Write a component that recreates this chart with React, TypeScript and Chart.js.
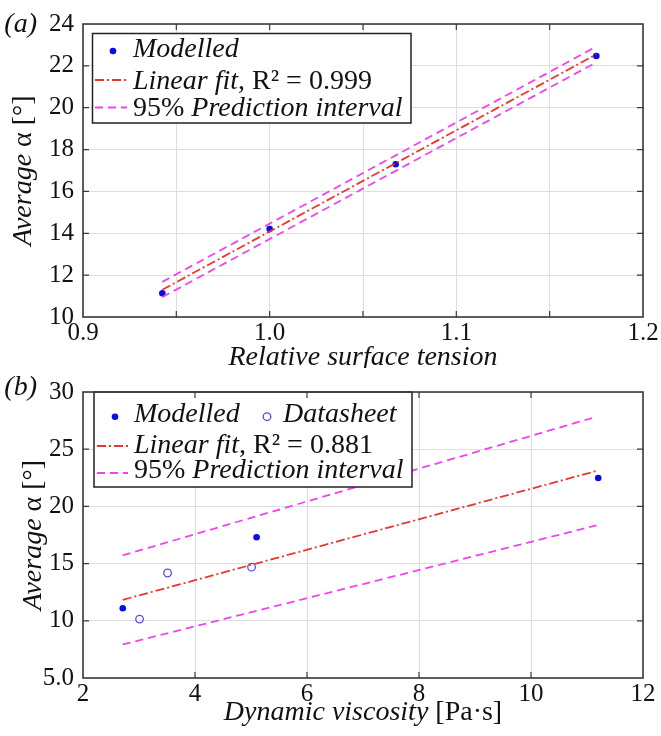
import React, { useEffect, useRef } from 'react';
import { Chart, registerables } from 'chart.js';

Chart.register(...registerables);

const SERIF = '"Liberation Serif", "DejaVu Serif", serif';
const INK = '#111111';
const GRID = '#dedede';
const FRAME = '#3a3a3a';
const BLUE = '#0b0bea';
const RING = '#4f4fe0';
const RED = '#e8382e';
const MAGENTA = '#ee44ee';
const FIT_DASH = [9, 3, 2, 3];
const PI_DASH = [8, 5];
const LINE_W = 1.8;

// (a) average angle against relative surface tension
const tensionModelled = [0.9425, 1.0, 1.0675, 1.175];
const alphaModelledA = [11.13, 14.2, 17.3, 22.47];
const tensionFit = [0.9425, 1.175];
const alphaFitA = [11.3, 22.55];
const alphaUpperA = [11.68, 22.92];
const alphaLowerA = [10.95, 22.17];
const tensionTicks = [0.9, 1.0, 1.1, 1.2];

// (b) average angle against dynamic viscosity
const viscosityModelled = [2.71, 5.1, 11.2];
const alphaModelledB = [11.1, 17.3, 22.48];
const viscosityDatasheet = [3.01, 3.51, 5.01];
const alphaDatasheet = [10.15, 14.18, 14.69];
const viscosityFit = [2.71, 11.17];
const alphaFitB = [11.83, 23.1];
const alphaUpperB = [15.72, 27.84];
const alphaLowerB = [7.93, 18.34];

type Run = { text: string; italic?: boolean };

const pts = (xs: number[], ys: number[]) => xs.map((x, i) => ({ x, y: ys[i] }));

function font(size: number, italic?: boolean) {
  return `${italic ? 'italic ' : ''}${size}px ${SERIF}`;
}

function drawRuns(ctx: CanvasRenderingContext2D, runs: Run[], x: number, y: number, size: number, align: 'left' | 'center' | 'right' = 'left') {
  const widths = runs.map((r) => {
    ctx.font = font(size, r.italic);
    return ctx.measureText(r.text).width;
  });
  const total = widths.reduce((a, b) => a + b, 0);
  let cx = align === 'left' ? x : align === 'center' ? x - total / 2 : x - total;
  ctx.textBaseline = 'alphabetic';
  ctx.textAlign = 'left';
  ctx.fillStyle = INK;
  runs.forEach((r, i) => {
    ctx.font = font(size, r.italic);
    ctx.fillText(r.text, cx, y);
    cx += widths[i];
  });
}

type Marker = { kind: 'dot' | 'ring' | 'line'; color: string; dash?: number[]; x: number; x2?: number };
type LegendRow = { baseline: number; markerY: number; items: { marker: Marker; textX: number; runs: Run[] }[] };

type Decor = {
  panel: string;
  panelBaseline: number;
  yTitleX: number;
  xTitleBaseline: number;
  xTitle: Run[];
  box: [number, number, number, number];
  rows: LegendRow[];
};

const yTitle: Run[] = [{ text: 'Average', italic: true }, { text: ' α [°]' }];

function drawMarker(ctx: CanvasRenderingContext2D, m: Marker, y: number) {
  ctx.save();
  if (m.kind === 'dot') {
    ctx.fillStyle = m.color;
    ctx.beginPath();
    ctx.arc(m.x, y, 3.3, 0, Math.PI * 2);
    ctx.fill();
  } else if (m.kind === 'ring') {
    ctx.strokeStyle = m.color;
    ctx.lineWidth = 1.3;
    ctx.beginPath();
    ctx.arc(m.x, y, 3.8, 0, Math.PI * 2);
    ctx.stroke();
  } else {
    ctx.strokeStyle = m.color;
    ctx.lineWidth = LINE_W;
    ctx.setLineDash(m.dash || []);
    ctx.beginPath();
    ctx.moveTo(m.x, y);
    ctx.lineTo(m.x2 || m.x, y);
    ctx.stroke();
  }
  ctx.restore();
}

function decorPlugin(d: Decor) {
  return {
    id: 'panelDecor',
    afterDatasetsDraw(chart: any) {
      const ctx: CanvasRenderingContext2D = chart.ctx;
      const [bx, by, bw, bh] = d.box;
      ctx.save();
      ctx.fillStyle = '#ffffff';
      ctx.fillRect(bx, by, bw, bh);
      ctx.strokeStyle = '#222222';
      ctx.lineWidth = 1.5;
      ctx.strokeRect(bx, by, bw, bh);
      d.rows.forEach((row) => {
        row.items.forEach((it) => {
          drawMarker(ctx, it.marker, row.markerY);
          drawRuns(ctx, it.runs, it.textX, row.baseline, 28);
        });
      });
      ctx.restore();
    },
    afterDraw(chart: any) {
      const ctx: CanvasRenderingContext2D = chart.ctx;
      const a = chart.chartArea;
      ctx.save();
      // box frame with inward tick marks
      ctx.strokeStyle = FRAME;
      ctx.lineWidth = 1.6;
      ctx.strokeRect(a.left, a.top, a.right - a.left, a.bottom - a.top);
      ctx.lineWidth = 1.2;
      const xs = chart.scales.x;
      const ys = chart.scales.y;
      ctx.beginPath();
      xs.ticks.forEach((t: any) => {
        const p = xs.getPixelForValue(t.value);
        if (p <= a.left + 1 || p >= a.right - 1) return;
        ctx.moveTo(p, a.bottom);
        ctx.lineTo(p, a.bottom - 6);
        ctx.moveTo(p, a.top);
        ctx.lineTo(p, a.top + 6);
      });
      ys.ticks.forEach((t: any) => {
        const p = ys.getPixelForValue(t.value);
        if (p <= a.top + 1 || p >= a.bottom - 1) return;
        ctx.moveTo(a.left, p);
        ctx.lineTo(a.left + 6, p);
        ctx.moveTo(a.right, p);
        ctx.lineTo(a.right - 6, p);
      });
      ctx.stroke();

      // panel letter
      drawRuns(ctx, [{ text: d.panel, italic: true }], 37, d.panelBaseline, 28, 'right');

      // axis titles
      drawRuns(ctx, d.xTitle, (a.left + a.right) / 2, d.xTitleBaseline, 28, 'center');
      ctx.translate(d.yTitleX, (a.top + a.bottom) / 2);
      ctx.rotate(-Math.PI / 2);
      drawRuns(ctx, yTitle, 0, 0, 28, 'center');
      ctx.restore();
    },
  };
}

function baseScales(xh: number) {
  const tickFont = { family: SERIF, size: 25 };
  return {
    x: {
      type: 'linear',
      afterFit: (s: any) => {
        s.height = xh;
      },
      grid: { color: GRID, lineWidth: 1, drawTicks: false },
      border: { display: false },
      ticks: { padding: 1, color: INK, font: tickFont, autoSkip: false, maxRotation: 0 },
    },
    y: {
      type: 'linear',
      afterFit: (s: any) => {
        s.width = 83;
      },
      grid: { color: GRID, lineWidth: 1, drawTicks: false },
      border: { display: false },
      ticks: { padding: 9, color: INK, font: tickFont, autoSkip: false },
    },
  };
}

function lineSet(label: string, xs: number[], ys: number[], color: string, dash: number[]) {
  return { label, data: pts(xs, ys), showLine: true, borderColor: color, borderWidth: LINE_W, borderDash: dash, pointRadius: 0 };
}

function configA(): any {
  const sc: any = baseScales(51);
  sc.x.min = 0.9;
  sc.x.max = 1.2;
  sc.x.ticks.stepSize = 0.05;
  sc.x.ticks.callback = (v: any) => {
    const n = Math.round(Number(v) * 100) / 100;
    return tensionTicks.some((t) => Math.abs(t - n) < 1e-6) ? n.toFixed(1) : '';
  };
  sc.y.min = 10;
  sc.y.max = 24;
  sc.y.ticks.stepSize = 2;
  return {
    type: 'scatter',
    data: {
      datasets: [
        lineSet('upper', tensionFit, alphaUpperA, MAGENTA, PI_DASH),
        lineSet('lower', tensionFit, alphaLowerA, MAGENTA, PI_DASH),
        lineSet('fit', tensionFit, alphaFitA, RED, FIT_DASH),
        { label: 'Modelled', data: pts(tensionModelled, alphaModelledA), pointRadius: 3.3, pointBackgroundColor: BLUE, pointBorderColor: BLUE, pointBorderWidth: 0 },
      ],
    },
    options: {
      responsive: false,
      animation: false,
      devicePixelRatio: 1,
      layout: { padding: { top: 24, right: 18, left: 0, bottom: 0 } },
      plugins: { legend: { display: false }, tooltip: { enabled: false } },
      scales: sc,
    },
    plugins: [
      decorPlugin({
        panel: '(a)',
        panelBaseline: 32,
        yTitleX: 31,
        xTitleBaseline: 365,
        xTitle: [{ text: 'Relative surface tension', italic: true }],
        box: [92.5, 33.5, 318.5, 89.5],
        rows: [
          { baseline: 57, markerY: 51, items: [{ marker: { kind: 'dot', color: BLUE, x: 113 }, textX: 133, runs: [{ text: 'Modelled', italic: true }] }] },
          { baseline: 89, markerY: 80, items: [{ marker: { kind: 'line', color: RED, dash: FIT_DASH, x: 95, x2: 127 }, textX: 133, runs: [{ text: 'Linear fit', italic: true }, { text: ', R² = 0.999' }] }] },
          { baseline: 115.5, markerY: 107.5, items: [{ marker: { kind: 'line', color: MAGENTA, dash: PI_DASH, x: 95, x2: 127 }, textX: 133, runs: [{ text: '95% ' }, { text: 'Prediction interval', italic: true }] }] },
        ],
      }),
    ],
  };
}

function configB(): any {
  const sc: any = baseScales(58);
  sc.x.min = 2;
  sc.x.max = 12;
  sc.x.ticks.stepSize = 2;
  sc.y.min = 5;
  sc.y.max = 30;
  sc.y.ticks.stepSize = 5;
  sc.y.ticks.callback = (v: any) => (Number(v) === 5 ? '5.0' : String(v));
  return {
    type: 'scatter',
    data: {
      datasets: [
        lineSet('upper', viscosityFit, alphaUpperB, MAGENTA, PI_DASH),
        lineSet('lower', viscosityFit, alphaLowerB, MAGENTA, PI_DASH),
        lineSet('fit', viscosityFit, alphaFitB, RED, FIT_DASH),
        { label: 'Datasheet', data: pts(viscosityDatasheet, alphaDatasheet), pointRadius: 3.8, pointBackgroundColor: 'rgba(0,0,0,0)', pointBorderColor: RING, pointBorderWidth: 1.3 },
        { label: 'Modelled', data: pts(viscosityModelled, alphaModelledB), pointRadius: 3.3, pointBackgroundColor: BLUE, pointBorderColor: BLUE, pointBorderWidth: 0 },
      ],
    },
    options: {
      responsive: false,
      animation: false,
      devicePixelRatio: 1,
      layout: { padding: { top: 17, right: 18, left: 0, bottom: 0 } },
      plugins: { legend: { display: false }, tooltip: { enabled: false } },
      scales: sc,
    },
    plugins: [
      decorPlugin({
        panel: '(b)',
        panelBaseline: 27,
        yTitleX: 41,
        xTitleBaseline: 352,
        xTitle: [{ text: 'Dynamic viscosity', italic: true }, { text: ' [Pa·s]' }],
        box: [94, 24, 318, 95],
        rows: [
          {
            baseline: 53.7,
            markerY: 48.7,
            items: [
              { marker: { kind: 'dot', color: BLUE, x: 115 }, textX: 134, runs: [{ text: 'Modelled', italic: true }] },
              { marker: { kind: 'ring', color: RING, x: 267 }, textX: 283, runs: [{ text: 'Datasheet', italic: true }] },
            ],
          },
          { baseline: 85, markerY: 78, items: [{ marker: { kind: 'line', color: RED, dash: FIT_DASH, x: 97, x2: 128 }, textX: 134, runs: [{ text: 'Linear fit', italic: true }, { text: ', R² = 0.881' }] }] },
          { baseline: 110, markerY: 105, items: [{ marker: { kind: 'line', color: MAGENTA, dash: PI_DASH, x: 97, x2: 128 }, textX: 134, runs: [{ text: '95% ' }, { text: 'Prediction interval', italic: true }] }] },
        ],
      }),
    ],
  };
}

// make sure the serif faces are ready before the canvas text is drawn
function fontsReady(): Promise<unknown> {
  const fs: any = (document as any).fonts;
  if (!fs || !fs.load) return Promise.resolve();
  return Promise.all([
    fs.load('25px "Liberation Serif"'),
    fs.load('italic 28px "Liberation Serif"'),
    fs.load('28px "Liberation Serif"'),
  ]).catch(() => undefined);
}

function Panel({ build, top, height }: { build: () => any; top: number; height: number }) {
  const ref = useRef<HTMLCanvasElement>(null);
  useEffect(() => {
    let chart: Chart | null = null;
    let alive = true;
    fontsReady().then(() => {
      if (!alive || !ref.current) return;
      chart = new Chart(ref.current, build());
    });
    return () => {
      alive = false;
      if (chart) chart.destroy();
    };
  }, [build]);
  return (
    <canvas
      ref={ref}
      width={661}
      height={height}
      style={{ position: 'absolute', left: 0, top, width: 661, height }}
    />
  );
}

export default function App() {
  return (
    <div style={{ position: 'absolute', left: 0, top: 0, width: 661, height: 736, background: '#ffffff' }}>
      <Panel build={configA} top={0} height={368} />
      <Panel build={configB} top={368} height={368} />
    </div>
  );
}
